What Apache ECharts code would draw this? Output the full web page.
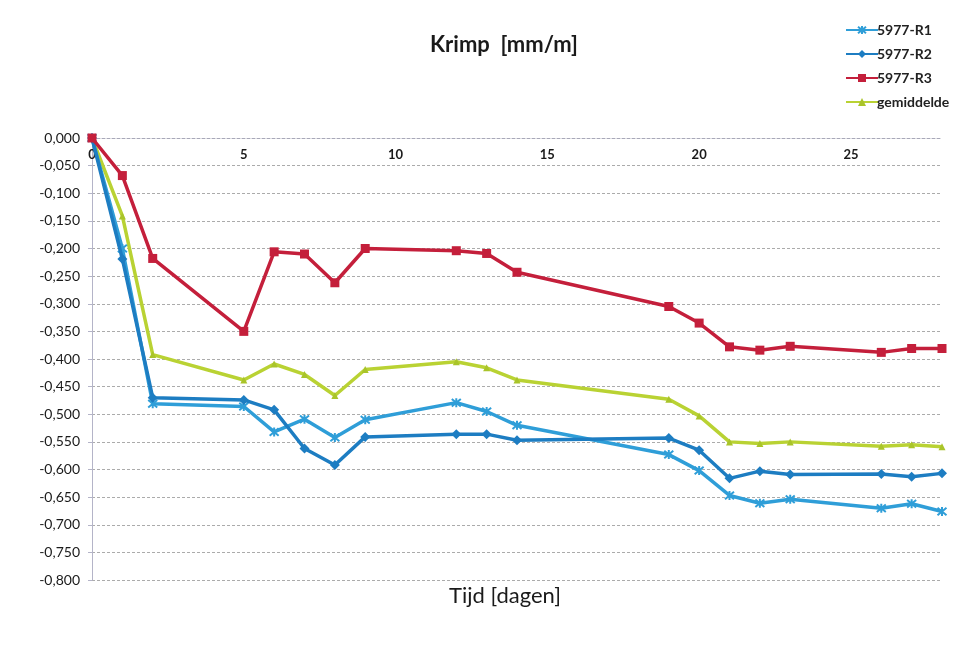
<!DOCTYPE html>
<html>
<head>
<meta charset="utf-8">
<script src="https://cdn.jsdelivr.net/npm/echarts@6/dist/echarts.min.js"></script>
<style>
  html, body { margin: 0; padding: 0; background: #ffffff; }
  #chart { width: 972px; height: 651px; }
</style>
</head>
<body>
<div id="chart"></div>
<script>
// Measuring days
const days = [0, 1, 2, 5, 6, 7, 8, 9, 12, 13, 14, 19, 20, 21, 22, 23, 26, 27, 28];

// Shrinkage per specimen [mm/m]
const r1 = [0, -0.200, -0.481, -0.486, -0.532, -0.509, -0.542, -0.510, -0.479, -0.495, -0.520,
            -0.573, -0.602, -0.647, -0.661, -0.654, -0.670, -0.662, -0.676];
const r2 = [0, -0.219, -0.470, -0.474, -0.492, -0.562, -0.592, -0.541, -0.536, -0.536, -0.547,
            -0.543, -0.565, -0.616, -0.603, -0.609, -0.608, -0.613, -0.607];
const r3 = [0, -0.068, -0.218, -0.350, -0.206, -0.210, -0.262, -0.200, -0.204, -0.209, -0.243,
            -0.305, -0.335, -0.378, -0.384, -0.377, -0.388, -0.381, -0.381];
const gemiddelde = [0, -0.141, -0.392, -0.438, -0.409, -0.428, -0.466, -0.419, -0.405, -0.416, -0.438,
            -0.473, -0.503, -0.550, -0.553, -0.550, -0.558, -0.555, -0.559];

const seriesNames = ['5977-R1', '5977-R2', '5977-R3', 'gemiddelde'];

const pairs = (vals) => days.map((d, i) => [d, vals[i]]);
const fontFamily = 'Lato, "Open Sans", sans-serif';

const asterisk = 'path://M0,0L10,10M10,0L0,10M5,-1L5,11';

const chart = echarts.init(document.getElementById('chart'), null, { renderer: 'canvas' });

chart.setOption({
  backgroundColor: '#ffffff',
  animation: false,
  title: [
    {
      text: 'Krimp  [mm/m]',
      left: 499,
      top: 29,
      textAlign: 'center',
      textStyle: { fontFamily, fontSize: 22, fontWeight: 'bold', color: '#1a1a1a' }
    },
    {
      text: 'Tijd [dagen]',
      left: 500,
      top: 580,
      textAlign: 'center',
      textStyle: { fontFamily, fontSize: 22, fontWeight: 'normal', color: '#1a1a1a' }
    }
  ],
  legend: {
    orient: 'vertical',
    left: 840,
    top: 18,
    itemWidth: 32,
    itemHeight: 10,
    itemGap: 10,
    data: seriesNames,
    textStyle: { fontFamily, fontSize: 14, fontWeight: 'bold', color: '#222', padding: [0, 0, 0, -6] }
  },
  grid: { left: 92, right: 30, top: 138, bottom: 71, containLabel: false },
  xAxis: {
    type: 'value',
    position: 'top',
    min: 0,
    max: 28,
    interval: 5,
    axisLine: { show: true, lineStyle: { color: '#a8a8b8', width: 1, type: [3, 2] } },
    axisTick: { show: false },
    splitLine: { show: false },
    axisLabel: {
      inside: true,
      showMaxLabel: false,
      margin: 10,
      fontFamily,
      fontSize: 13,
      fontWeight: 'bold',
      color: '#1a1a1a'
    }
  },
  yAxis: {
    type: 'value',
    min: -0.8,
    max: 0,
    interval: 0.05,
    axisLine: { show: true, lineStyle: { color: '#b4b4c8', width: 1 } },
    axisTick: { show: true, length: 4, lineStyle: { color: '#b4b4c8' } },
    splitLine: { show: true, lineStyle: { color: '#ababab', width: 1, type: [3, 2] } },
    axisLabel: {
      margin: 12,
      fontFamily,
      fontSize: 14,
      color: '#1a1a1a',
      formatter: (v) => v.toFixed(3).replace('.', ',')
    }
  },
  series: [
    {
      name: seriesNames[0],
      type: 'line',
      data: pairs(r1),
      symbol: asterisk,
      symbolSize: 9,
      lineStyle: { color: '#2f9ed8', width: 3.5 },
      itemStyle: { color: '#2f9ed8', borderColor: '#2f9ed8', borderWidth: 2 },
      z: 3
    },
    {
      name: seriesNames[1],
      type: 'line',
      data: pairs(r2),
      symbol: 'diamond',
      symbolSize: 10,
      lineStyle: { color: '#1d7dc2', width: 3.5 },
      itemStyle: { color: '#1d7dc2' },
      z: 4
    },
    {
      name: seriesNames[2],
      type: 'line',
      data: pairs(r3),
      symbol: 'rect',
      symbolSize: 9,
      lineStyle: { color: '#c41f3b', width: 3.5 },
      itemStyle: { color: '#c41f3b' },
      z: 5
    },
    {
      name: seriesNames[3],
      type: 'line',
      data: pairs(gemiddelde),
      symbol: 'triangle',
      symbolSize: 7,
      lineStyle: { color: '#b9d233', width: 3.5 },
      itemStyle: { color: '#a9c42a' },
      z: 2
    }
  ]
});
</script>
</body>
</html>
